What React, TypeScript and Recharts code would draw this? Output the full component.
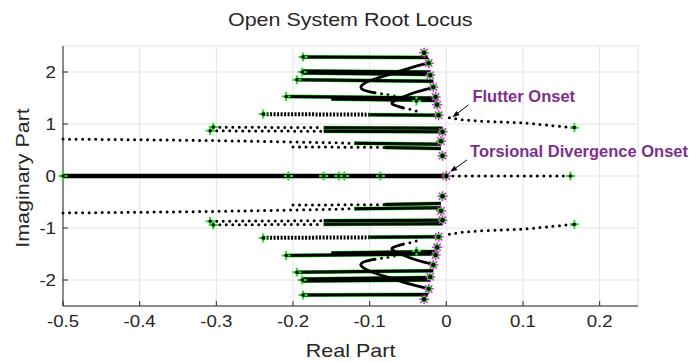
import { ComposedChart, Line, Scatter, XAxis, YAxis, CartesianGrid, ReferenceLine } from 'recharts'

type Pt = [number, number]

const FONT = '"Liberation Sans", Arial, Helvetica, sans-serif'
const INK = '#262626'
const PURPLE = '#7e2f8e'
const GREEN = '#22e622'
const MAGENTA = '#ff00ff'
const STRETCH = 1.13

const X_TICKS = [-0.5, -0.4, -0.3, -0.2, -0.1, 0, 0.1, 0.2]
const Y_TICKS = [-2, -1, 0, 1, 2]

// straight, densely sampled branches (upper / lower half)
const SOLID_UPPER: Pt[][] = [
  [[-0.187, 2.29], [-0.026, 2.28], [-0.029, 2.37]],
  [[-0.188, 2.02], [-0.02, 2.0]],
  [[-0.188, 1.98], [-0.02, 1.95]],
  [[-0.195, 1.85], [-0.017, 1.82]],
  [[-0.209, 1.53], [-0.014, 1.5]],
  [[-0.15, 1.48], [-0.013, 1.45]],
  [[-0.1, 1.18], [-0.01, 1.17]],
  [[-0.16, 0.93], [-0.005, 0.92]],
  [[-0.16, 0.86], [-0.005, 0.85]],
  [[-0.12, 0.63], [-0.007, 0.61]],
  [[-0.08, 0.55], [-0.007, 0.53]],
]
const SOLID_LOWER: Pt[][] = [
  [[-0.187, -2.29], [-0.026, -2.28], [-0.029, -2.37]],
  [[-0.188, -2.02], [-0.02, -2.0]],
  [[-0.188, -1.98], [-0.02, -1.95]],
  [[-0.195, -1.85], [-0.017, -1.82]],
  [[-0.209, -1.53], [-0.014, -1.5]],
  [[-0.15, -1.48], [-0.013, -1.45]],
  [[-0.1, -1.18], [-0.01, -1.17]],
  [[-0.16, -0.93], [-0.005, -0.92]],
  [[-0.16, -0.86], [-0.005, -0.85]],
  [[-0.12, -0.63], [-0.007, -0.61]],
  [[-0.08, -0.55], [-0.007, -0.53]],
]

// bending branches near the imaginary axis
const CURVES_UPPER: Pt[][] = [
  [[-0.0235, 2.17], [-0.047, 2.08], [-0.073, 1.96], [-0.0965, 1.85], [-0.111, 1.73], [-0.107, 1.65], [-0.093, 1.6]],
  [[-0.014, 1.71], [-0.038, 1.62], [-0.06, 1.5], [-0.07, 1.42], [-0.069, 1.37], [-0.056, 1.31]],
]
const CURVES_LOWER: Pt[][] = [
  [[-0.0235, -2.17], [-0.047, -2.08], [-0.073, -1.96], [-0.0965, -1.85], [-0.111, -1.73], [-0.107, -1.65], [-0.093, -1.6]],
  [[-0.014, -1.71], [-0.038, -1.62], [-0.06, -1.5], [-0.07, -1.42], [-0.069, -1.37], [-0.056, -1.31]],
]

// sparsely sampled stretches, drawn as dots
const DOTTED_UPPER: Pt[][] = [
  [[-0.304, 0.94], [-0.16, 0.93]],
  [[-0.308, 0.87], [-0.16, 0.86]],
  [[-0.5, 0.71], [-0.3, 0.68], [-0.12, 0.63]],
  [[-0.2, 0.56], [-0.08, 0.55]],
  [[-0.093, 1.6], [-0.076, 1.56], [-0.06, 1.52]],
  [[-0.056, 1.31], [-0.044, 1.27], [-0.034, 1.23]],
]
const DOTTED_LOWER: Pt[][] = [
  [[-0.304, -0.94], [-0.16, -0.93]],
  [[-0.308, -0.87], [-0.16, -0.86]],
  [[-0.5, -0.71], [-0.3, -0.68], [-0.12, -0.63]],
  [[-0.2, -0.56], [-0.08, -0.55]],
  [[-0.093, -1.6], [-0.076, -1.56], [-0.06, -1.52]],
  [[-0.056, -1.31], [-0.044, -1.27], [-0.034, -1.23]],
]
const DENSE: Pt[][] = [
  [[-0.239, 1.19], [-0.1, 1.18]],
  [[-0.239, -1.19], [-0.1, -1.18]],
]

const FLUTTER_UPPER: Pt[] = [[0.004, 1.12], [0.03, 1.07], [0.07, 1.04], [0.1, 1.02], [0.13, 0.98], [0.167, 0.93]]
const FLUTTER_LOWER: Pt[] = [[0.004, -1.12], [0.03, -1.07], [0.07, -1.04], [0.1, -1.02], [0.13, -0.98], [0.167, -0.93]]
const TORSION: Pt[] = [[0, 0], [0.162, 0]]
const REAL_AXIS: Pt[] = [[-0.5, 0], [0, 0]]

const START_POLES: Pt[] = [
  [-0.187, 2.29], [-0.188, 2.0], [-0.195, 1.85], [-0.209, 1.53], [-0.239, 1.19], [-0.304, 0.94], [-0.308, 0.87], [-0.039, 1.44], [0.167, 0.93],
  [-0.187, -2.29], [-0.188, -2.0], [-0.195, -1.85], [-0.209, -1.53], [-0.239, -1.19], [-0.304, -0.94], [-0.308, -0.87], [-0.039, -1.44], [0.167, -0.93],
  [-0.5, 0], [-0.206, 0], [-0.16, 0], [-0.14, 0], [-0.133, 0], [-0.086, 0], [0.162, 0],
]
const END_ROOTS: Pt[] = [
  [-0.029, 2.37], [-0.023, 2.17], [-0.021, 1.94], [-0.017, 1.71], [-0.014, 1.52], [-0.012, 1.37], [-0.01, 1.17], [-0.005, 0.85], [-0.007, 0.67], [-0.005, 0.39],
  [-0.029, -2.37], [-0.023, -2.17], [-0.021, -1.94], [-0.017, -1.71], [-0.014, -1.52], [-0.012, -1.37], [-0.01, -1.17], [-0.005, -0.85], [-0.007, -0.67], [-0.005, -0.39],
  [0, 0],
]

const NOTES = [
  { re: 0.034, im: 1.42, text: 'Flutter Onset', from: [0.029, 1.37] as Pt, to: [0.008, 1.13] as Pt },
  { re: 0.031, im: 0.365, text: 'Torsional Divergence Onset', from: [0.027, 0.31] as Pt, to: [0.005, 0.08] as Pt },
]

const rows = (pts: Pt[]) => pts.map(([re, im]) => ({ re, im }))

function StartMark({ cx, cy }: any) {
  if (cx == null || cy == null) return <g />
  const s = 4.5
  return (
    <g>
      <path d={`M${cx - s},${cy}H${cx + s}M${cx},${cy - s}V${cy + s}`} stroke={GREEN} strokeWidth={2} />
      <circle cx={cx} cy={cy} r={1.8} fill="#000" />
    </g>
  )
}

function EndMark({ cx, cy }: any) {
  if (cx == null || cy == null) return <g />
  const s = 5, d = 3.6
  return (
    <g>
      <path
        d={`M${cx - s},${cy}H${cx + s}M${cx},${cy - s}V${cy + s}M${cx - d},${cy - d}L${cx + d},${cy + d}M${cx - d},${cy + d}L${cx + d},${cy - d}`}
        stroke={MAGENTA} strokeWidth={1.5} />
      <circle cx={cx} cy={cy} r={3.3} fill={GREEN} />
      <circle cx={cx} cy={cy} r={2.2} fill="#000" />
    </g>
  )
}

function Arrow(props: any) {
  const { x1, y1, x2, y2 } = props
  if ([x1, y1, x2, y2].some(v => v == null)) return <g />
  const a = Math.atan2(y2 - y1, x2 - x1)
  const len = 7, w = 2.6
  const bx = x2 - len * Math.cos(a), by = y2 - len * Math.sin(a)
  const px = w * Math.sin(a), py = w * Math.cos(a)
  return (
    <g>
      <line x1={x1} y1={y1} x2={bx} y2={by} stroke="#000" strokeWidth={1} />
      <polygon points={`${x2},${y2} ${bx + px},${by - py} ${bx - px},${by + py}`} fill="#000" />
    </g>
  )
}

const noteShape = (text: string) => ({ cx, cy }: any) =>
  cx == null ? <g /> : (
    <text x={cx} y={cy} fill={PURPLE} fontFamily={FONT} fontSize={16.5} fontWeight="bold">{text}</text>
  )

// tick text, slightly widened like the rest of the lettering
const tickText = (dy: string) => ({ x, y, payload, textAnchor }: any) => (
  <text transform={`translate(${x},${y}) scale(${STRETCH},1)`} textAnchor={textAnchor} dy={dy}
    fill={INK} fontSize={16.5} fontFamily={FONT}>
    {String(payload.value)}
  </text>
)

const wide = { display: 'inline-block', transform: `scaleX(${STRETCH})` }

export default function App() {
  const solid = [...SOLID_UPPER, ...SOLID_LOWER]
  const curves = [...CURVES_UPPER, ...CURVES_LOWER]
  const dotted = [...DOTTED_UPPER, ...DOTTED_LOWER, FLUTTER_UPPER, FLUTTER_LOWER, TORSION]

  return (
    <div style={{ position: 'absolute', left: 0, top: 0, width: 695, height: 363, background: '#fff', fontFamily: FONT, color: INK }}>
      <div style={{ position: 'absolute', left: 63, width: 575, top: 9, textAlign: 'center', fontSize: 19 }}>
        <span style={wide}>Open System Root Locus</span>
      </div>
      <div style={{ position: 'absolute', left: 63, width: 575, top: 340, textAlign: 'center', fontSize: 19 }}>
        <span style={wide}>Real Part</span>
      </div>
      <div style={{
        position: 'absolute', left: 23, top: 178, fontSize: 19, whiteSpace: 'nowrap',
        transform: `translate(-50%, -50%) rotate(-90deg) scaleX(${STRETCH})`,
      }}>
        Imaginary Part
      </div>

      <ComposedChart width={695} height={363} margin={{ top: 46, right: 57, bottom: 0, left: 0 }}>
        <CartesianGrid stroke="#e2e2e2" xAxisId="b" yAxisId="l" />
        <XAxis xAxisId="b" dataKey="re" type="number" domain={[-0.5, 0.25]} ticks={X_TICKS} height={57}
          tick={tickText('0.71em')} tickSize={-5} tickMargin={14} stroke={INK} />
        <XAxis xAxisId="t" orientation="top" dataKey="re" type="number" domain={[-0.5, 0.25]} ticks={X_TICKS} height={0}
          tick={false} tickSize={-5} stroke={INK} />
        <YAxis yAxisId="l" dataKey="im" type="number" domain={[-2.5, 2.5]} ticks={Y_TICKS} width={63}
          tick={tickText('0.36em')} tickSize={-5} tickMargin={12} stroke={INK} />
        <YAxis yAxisId="r" orientation="right" dataKey="im" type="number" domain={[-2.5, 2.5]} ticks={Y_TICKS} width={0}
          tick={false} tickSize={-5} stroke={INK} />

        <Line xAxisId="b" yAxisId="l" data={rows(REAL_AXIS)} dataKey="im" type="linear" stroke="#000" strokeWidth={4.5}
          dot={false} activeDot={false} isAnimationActive={false} />

        {dotted.map((b, i) => (
          <Line key={`d${i}`} xAxisId="b" yAxisId="l" data={rows(b)} dataKey="im" type="natural" stroke="#000" strokeWidth={3}
            strokeDasharray="0 6.5" strokeLinecap="round" dot={false} activeDot={false} isAnimationActive={false} />
        ))}
        {DENSE.map((b, i) => (
          <Line key={`n${i}`} xAxisId="b" yAxisId="l" data={rows(b)} dataKey="im" type="linear" stroke="#000" strokeWidth={4}
            strokeDasharray="2 1.5" dot={false} activeDot={false} isAnimationActive={false} />
        ))}
        {solid.map((b, i) => (
          <Line key={`g${i}`} xAxisId="b" yAxisId="l" data={rows(b)} dataKey="im" type="linear" stroke={GREEN} strokeWidth={4}
            dot={false} activeDot={false} isAnimationActive={false} />
        ))}
        {solid.map((b, i) => (
          <Line key={`s${i}`} xAxisId="b" yAxisId="l" data={rows(b)} dataKey="im" type="linear" stroke="#000" strokeWidth={3}
            dot={false} activeDot={false} isAnimationActive={false} />
        ))}
        {curves.map((b, i) => (
          <Line key={`c${i}`} xAxisId="b" yAxisId="l" data={rows(b)} dataKey="im" type="natural" stroke="#000" strokeWidth={2.8}
            dot={false} activeDot={false} isAnimationActive={false} />
        ))}

        <Scatter xAxisId="b" yAxisId="l" data={rows(START_POLES)} shape={StartMark} isAnimationActive={false} />
        <Scatter xAxisId="b" yAxisId="l" data={rows(END_ROOTS)} shape={EndMark} isAnimationActive={false} />

        {NOTES.map((n, i) => (
          <ReferenceLine key={`a${i}`} xAxisId="b" yAxisId="l"
            segment={[{ x: n.from[0], y: n.from[1] }, { x: n.to[0], y: n.to[1] }]} shape={Arrow} />
        ))}
        {NOTES.map((n, i) => (
          <Scatter key={`t${i}`} xAxisId="b" yAxisId="l" data={[{ re: n.re, im: n.im }]} shape={noteShape(n.text)}
            isAnimationActive={false} />
        ))}
      </ComposedChart>
    </div>
  )
}
